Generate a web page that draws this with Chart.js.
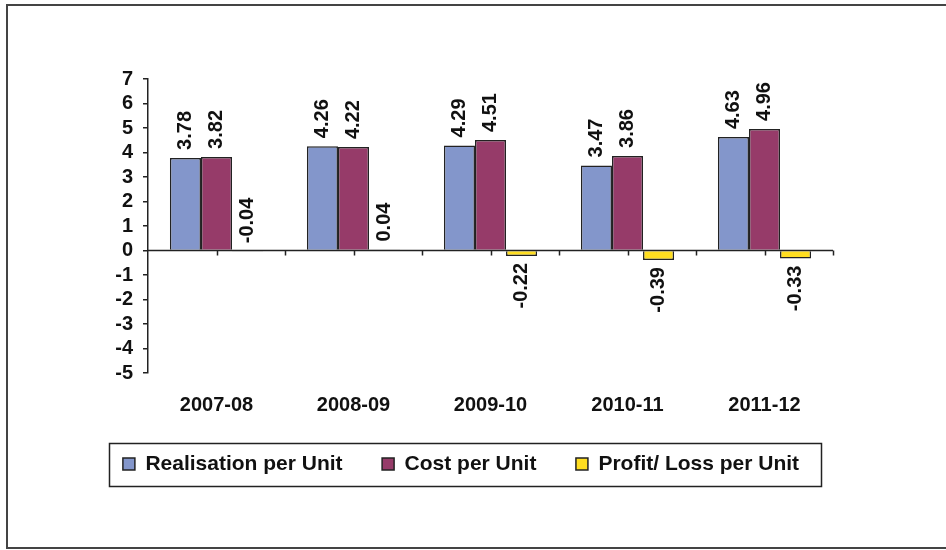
<!DOCTYPE html>
<html>
<head>
<meta charset="utf-8">
<script src="https://cdn.jsdelivr.net/npm/chart.js@4"></script>
<style>
  body { margin: 0; background: #fff; }
  #wrap { width: 946px; height: 550px; }
</style>
</head>
<body>
<div id="wrap"><canvas id="myChart" width="946" height="550"></canvas></div>
<script>
const years = ['2007-08', '2008-09', '2009-10', '2010-11', '2011-12']
const realisation = [3.78, 4.26, 4.29, 3.47, 4.63]
const cost = [3.82, 4.22, 4.51, 3.86, 4.96]
const profitLoss = [-0.04, 0.04, -0.22, -0.39, -0.33]
const yTicks = [7, 6, 5, 4, 3, 2, 1, 0, -1, -2, -3, -4, -5]

const boldFont = { family: "'Liberation Sans', Arial, sans-serif", weight: 'bold', size: 20 }
const lineColor = '#222'

// value labels, turned on their side like the original
const barLabels = {
  id: 'barLabels',
  afterDatasetsDraw(chart) {
    const ctx = chart.ctx
    ctx.save()
    ctx.font = 'bold 20px "Liberation Sans", Arial, sans-serif'
    ctx.fillStyle = '#111'
    ctx.textBaseline = 'middle'
    chart.data.datasets.forEach((ds, i) => {
      chart.getDatasetMeta(i).data.forEach((bar, j) => {
        const v = ds.data[j]
        const text = v.toFixed(2)
        ctx.save()
        if (v > -0.1) {
          ctx.translate(bar.x, Math.min(bar.y, bar.base) - 8)
          ctx.rotate(-Math.PI / 2)
          ctx.textAlign = 'left'
        } else {
          ctx.translate(bar.x, Math.max(bar.y, bar.base) + 7)
          ctx.rotate(-Math.PI / 2)
          ctx.textAlign = 'right'
        }
        ctx.fillText(text, 0, 0)
        ctx.restore()
      })
    })
    ctx.restore()
  }
}

// category axis line sits on zero, with small ticks under it
const zeroAxis = {
  id: 'zeroAxis',
  afterDatasetsDraw(chart) {
    const { ctx, chartArea } = chart
    const y0 = chart.scales.y.getPixelForValue(0)
    const step = (chartArea.right - chartArea.left) / (years.length * 2)
    ctx.save()
    ctx.strokeStyle = lineColor
    ctx.lineWidth = 1.5
    ctx.beginPath()
    ctx.moveTo(chartArea.left, y0)
    ctx.lineTo(chartArea.right, y0)
    for (let i = 1; i <= years.length * 2; i++) {
      const x = Math.round(chartArea.left + i * step) + 0.5
      ctx.moveTo(x, y0)
      ctx.lineTo(x, y0 + 5)
    }
    ctx.stroke()
    ctx.restore()
  }
}

const frames = {
  id: 'frames',
  afterDraw(chart) {
    const ctx = chart.ctx
    ctx.save()
    ctx.strokeStyle = '#444'
    ctx.lineWidth = 2
    ctx.strokeRect(7, 5, 960, 543)

    const hb = chart.legend.legendHitBoxes
    if (hb && hb.length) {
      const first = hb[0]
      const last = hb[hb.length - 1]
      ctx.strokeStyle = lineColor
      ctx.lineWidth = 1.5
      const x1 = first.left - 14
      const x2 = last.left + last.width + 22
      const y1 = first.top - 11
      const y2 = first.top + first.height + 11
      ctx.strokeRect(Math.round(x1) + 0.5, Math.round(y1) + 0.5, Math.round(x2 - x1), Math.round(y2 - y1))
    }
    ctx.restore()
  }
}

const ctx = document.getElementById('myChart').getContext('2d')

new Chart(ctx, {
  type: 'bar',
  data: {
    labels: years,
    datasets: [
      {
        label: 'Realisation per Unit',
        data: realisation,
        backgroundColor: '#8396cb',
        borderColor: lineColor,
        borderWidth: 1.5,
      },
      {
        label: 'Cost per Unit',
        data: cost,
        backgroundColor: '#963b69',
        borderColor: lineColor,
        borderWidth: 1.5,
      },
      {
        label: 'Profit/ Loss per Unit',
        data: profitLoss,
        backgroundColor: '#ffde21',
        borderColor: lineColor,
        borderWidth: 1.5,
      }
    ]
  },
  options: {
    responsive: false,
    animation: false,
    categoryPercentage: 0.68,
    barPercentage: 1,
    layout: {
      padding: { left: 0, right: 24, top: 79, bottom: 65.5 }
    },
    scales: {
      x: {
        grid: { display: false },
        border: { display: false },
        ticks: { color: '#111', font: boldFont, padding: 12 },
        afterFit: (scale) => { scale.height = 41 }
      },
      y: {
        min: -5,
        max: 7,
        afterBuildTicks: (scale) => {
          scale.ticks = yTicks.map(v => ({ value: v }))
        },
        grid: {
          drawOnChartArea: false,
          drawTicks: true,
          tickLength: 5,
          color: lineColor,
          lineWidth: 1.5
        },
        border: { display: true, color: lineColor, width: 1.5 },
        ticks: { color: '#111', font: boldFont, padding: 10, autoSkip: false },
        afterFit: (scale) => { scale.width = 148 }
      },
      // empty axis on the right, only keeps the plot narrower
      spacer: {
        type: 'linear',
        position: 'right',
        grid: { display: false },
        border: { display: false },
        ticks: { display: false },
        afterFit: (scale) => { scale.width = 89 }
      }
    },
    plugins: {
      tooltip: { enabled: false },
      legend: {
        position: 'bottom',
        labels: {
          color: '#111',
          boxWidth: 12,
          boxHeight: 12,
          padding: 39.5,
          font: { family: "'Liberation Sans', Arial, sans-serif", weight: 'bold', size: 21 }
        }
      }
    }
  },
  plugins: [barLabels, zeroAxis, frames]
})
</script>
</body>
</html>
